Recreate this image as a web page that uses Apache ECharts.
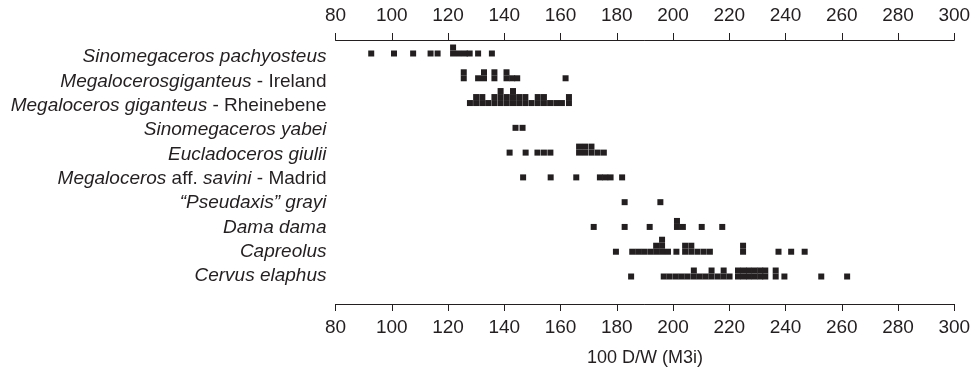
<!DOCTYPE html>
<html>
<head>
<meta charset="utf-8">
<script src="https://cdn.jsdelivr.net/npm/echarts@6/dist/echarts.min.js"></script>
<style>
html,body{margin:0;padding:0;background:#fff;}
#chart{width:976px;height:377px;}
</style>
</head>
<body>
<div id="chart"></div>
<script>
// Row names (top to bottom)
const categories = [
  'Sinomegaceros pachyosteus',
  'Megalocerosgiganteus - Ireland',
  'Megaloceros giganteus - Rheinebene',
  'Sinomegaceros yabei',
  'Eucladoceros giulii',
  'Megaloceros aff. savini - Madrid',
  '“Pseudaxis” grayi',
  'Dama dama',
  'Capreolus',
  'Cervus elaphus'
];
// rich-text versions of the labels (italic species names)
const richLabels = [
  '{i|Sinomegaceros pachyosteus}',
  '{i|Megalocerosgiganteus}{n| - Ireland}',
  '{i|Megaloceros giganteus}{n| - Rheinebene}',
  '{i|Sinomegaceros yabei}',
  '{i|Eucladoceros giulii}',
  '{i|Megaloceros}{n| aff. }{i|savini}{n| - Madrid}',
  '{i|“Pseudaxis” grayi}',
  '{i|Dama dama}',
  '{i|Capreolus}',
  '{i|Cervus elaphus}'
];
// x-axis tick values
const xTicks = [80, 100, 120, 140, 160, 180, 200, 220, 240, 260, 280, 300];

// 100 D/W (M3i) values; repeated values stack upward
const pachyosteus = [92.7, 100.8, 107.6, 113.8, 116.3, 121.8, 121.8, 123.9, 126.0, 127.7, 130.7, 135.6];
const ireland = [125.6, 125.6, 130.7, 132.8, 132.8, 136.5, 136.5, 140.8, 140.8, 142.8, 144.6, 161.8];
const rheinebene = [127.8, 130.0, 130.0, 132.2, 132.2, 134.3, 136.5, 136.5, 138.7, 138.7, 138.7,
  140.9, 140.9, 143.1, 143.1, 143.1, 145.3, 145.3, 147.5, 147.5, 149.7, 151.9, 151.9,
  154.1, 154.1, 156.3, 158.5, 160.5, 163.0, 163.0];
const yabei = [144.0, 146.5];
const giulii = [141.9, 147.6, 151.8, 154.1, 156.4, 166.6, 166.6, 168.7, 168.7, 171.0, 171.0, 173.2, 175.4];
const madrid = [146.7, 156.5, 165.6, 174.0, 175.9, 177.8, 181.9];
const grayi = [182.8, 195.5];
const dama = [171.8, 182.8, 191.7, 201.4, 201.4, 203.5, 210.2, 217.5];
const capreolus = [179.7, 185.5, 187.6, 189.7, 191.9, 194.0, 194.0, 196.1, 196.1, 196.1, 198.2,
  201.2, 204.3, 204.3, 206.5, 206.5, 208.7, 210.9, 213.1, 224.9, 224.9, 237.5, 242.0, 246.8];
const cervus = [185.1, 196.7, 198.8, 201.0, 203.1, 205.2, 207.4, 207.4, 209.5, 211.6, 213.7, 213.7,
  215.9, 218.0, 218.0, 220.1, 223.1, 223.1, 225.1, 225.1, 227.0, 227.0, 229.0, 229.0,
  231.0, 231.0, 232.8, 232.8, 236.5, 236.5, 239.6, 252.7, 261.9];

const rows = [pachyosteus, ireland, rheinebene, yabei, giulii, madrid, grayi, dama, capreolus, cervus];

// build stack levels
const levels = [[], [], [], []];
rows.forEach((vals, r) => {
  const seen = {};
  vals.forEach(v => {
    const k = v.toFixed(2);
    const lvl = seen[k] || 0;
    seen[k] = lvl + 1;
    levels[Math.min(lvl, 3)].push([v, r]);
  });
});

const INK = '#231f20';
const FONT = "'Liberation Sans', Arial, Helvetica, sans-serif";
const SQ = 6;

const series = levels.map((data, lvl) => ({
  type: 'scatter',
  xAxisIndex: 1,
  yAxisIndex: 1,
  symbol: 'rect',
  symbolSize: [SQ, SQ],
  symbolOffset: [0, -SQ * lvl],
  itemStyle: { color: INK, opacity: 1 },
  emphasis: { disabled: true },
  silent: true,
  data: data
}));

const xCommon = {
  type: 'value',
  min: xTicks[0],
  max: xTicks[xTicks.length - 1],
  interval: 20,
  splitLine: { show: false },
  axisLine: { show: true, onZero: false, lineStyle: { color: INK, width: 1 } },
  axisTick: { show: true, length: 7, lineStyle: { color: INK, width: 1 } },
  axisLabel: { color: INK, fontSize: 19, fontFamily: FONT, margin: 15 }
};

const chart = echarts.init(document.getElementById('chart'), null, { renderer: 'canvas' });
chart.setOption({
  animation: false,
  backgroundColor: '#ffffff',
  textStyle: { fontFamily: FONT },
  grid: { left: 335.5, right: 21.7, top: 44.8, bottom: 88.8, containLabel: false },
  xAxis: [
    Object.assign({}, xCommon, { position: 'top', offset: 4.8 }),
    Object.assign({}, xCommon, {
      position: 'bottom', offset: 15.8,
      axisLabel: { color: INK, fontSize: 19, fontFamily: FONT, margin: 14 },
      name: '100 D/W (M3i)', nameLocation: 'middle', nameGap: 45,
      nameTextStyle: { color: INK, fontSize: 18, fontFamily: FONT }
    })
  ],
  yAxis: [
    {
      type: 'category',
      data: categories,
      inverse: true,
      axisLine: { show: false },
      axisTick: { show: false },
      splitLine: { show: false },
      axisLabel: {
        margin: 9,
        formatter: (v, i) => richLabels[i],
        rich: {
          i: { fontStyle: 'italic', fontSize: 19, color: INK, fontFamily: FONT },
          n: { fontSize: 19, color: INK, fontFamily: FONT }
        }
      }
    },
    {
      type: 'value',
      inverse: true,
      min: -0.351,
      max: 9.472,
      show: false
    }
  ],
  series: series
});
</script>
</body>
</html>
